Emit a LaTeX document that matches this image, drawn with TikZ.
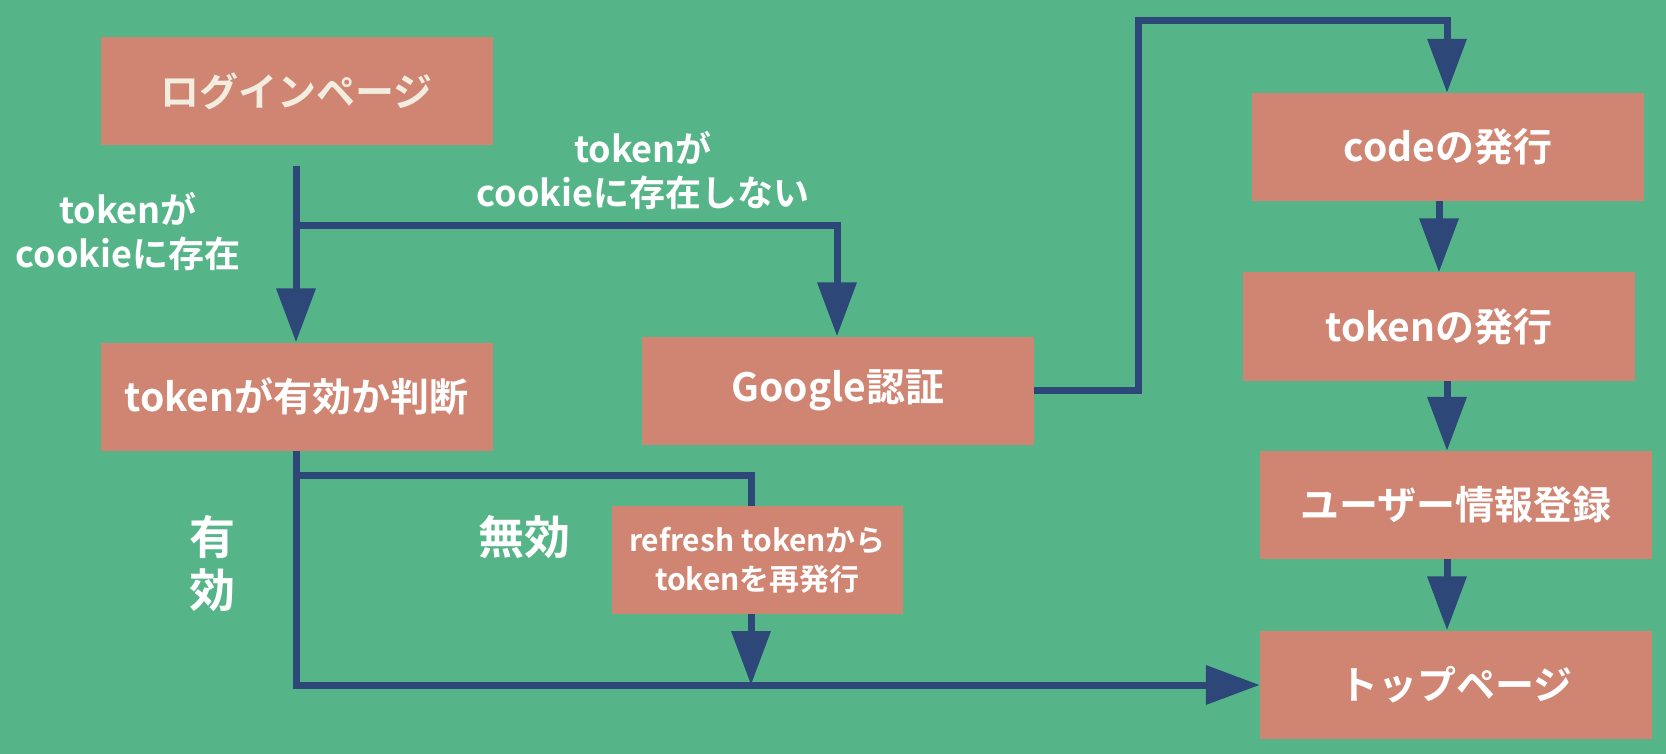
\documentclass[tikz,border=0pt]{standalone}
\usepackage{fontspec}
\newfontfamily\jp{Noto Sans CJK JP}[BoldFont={Noto Sans CJK JP Bold}]
\usetikzlibrary{arrows.meta,calc}
\definecolor{bg}{RGB}{85,181,137}
\definecolor{boxc}{RGB}{208,132,114}
\definecolor{navy}{RGB}{44,71,120}
\definecolor{cream}{RGB}{242,237,223}
\begin{document}
\begin{tikzpicture}[x=1pt,y=-1pt,
  box/.style={fill=boxc,draw=none,minimum width=392pt,minimum height=108pt,inner sep=0pt,
    text=white,font=\jp\bfseries\fontsize{39}{46}\selectfont,align=center},
  conn/.style={draw=navy,line width=7pt,line join=miter},
  arr/.style={conn,-{Triangle[width=38pt,length=54pt]}},
  lbl/.style={text=white,font=\jp\bfseries\fontsize{36}{44}\selectfont,align=center,inner sep=0pt},
  big/.style={text=white,font=\jp\bfseries\fontsize{46}{50}\selectfont,inner sep=0pt}]
\fill[bg] (0,0) rectangle (1666,754);
\useasboundingbox (0,0) rectangle (1666,754);
% boxes
\node[box,text=cream] (login) at (296.5,91) {ログインページ};
\node[box] (judge) at (296.5,396.5) {tokenが有効か判断};
\node[box] (google) at (838,390.5) {Google認証};
\node[box,minimum width=291pt,font=\jp\bfseries\fontsize{30}{39}\selectfont] (refresh) at (757.5,560) {refresh tokenから\\tokenを再発行};
\node[box] (code) at (1448,147) {codeの発行};
\node[box] (tok) at (1439,326.5) {tokenの発行};
\node[box] (user) at (1456,505) {ユーザー情報登録};
\node[box] (top) at (1456,684.5) {トップページ};
% labels
\node[lbl] (l1) at (128,232) {tokenが\\cookieに存在};
\node[lbl] (l2) at (643,171) {tokenが\\cookieに存在しない};
\node[big] (v1) at (212,537) {有};
\node[big] (v2) at (212,590) {効};
\node[big] (inv) at (524,537) {無効};
% coordinates
\coordinate (s1) at (296,166);
\coordinate (b1) at (296,226);
\coordinate (b1r) at (837,226);
\coordinate (b2) at (296,475);
\coordinate (b2r) at (751,475);
\coordinate (jn) at (751,685);
\coordinate (bl) at (296,685);
\coordinate (g1) at (1138,390);
\coordinate (g2) at (1138,21);
\coordinate (g3) at (1447,21);
\coordinate (xa) at (1447,0);
\coordinate (xb) at (1439,0);
% connectors
\draw[arr] (s1) -- (judge.north -| s1);
\draw[arr] (b1) -- (b1r) -- (google.north -| b1r);
\draw[conn] (judge.south -| s1) -- (bl) -- (jn);
\draw[arr] (jn) -- (top.west |- jn);
\draw[conn] (b2) -- (b2r) -- (refresh.north -| b2r);
\draw[arr] (refresh.south -| b2r) -- (jn);
\draw[arr] (google.east |- g1) -- (g1) -- (g2) -- (g3) -- (code.north -| g3);
\draw[arr] (code.south -| xb) -- (tok.north -| xb);
\draw[arr] (tok.south -| xa) -- (user.north -| xa);
\draw[arr] (user.south -| xa) -- (top.north -| xa);
\end{tikzpicture}
\end{document}
